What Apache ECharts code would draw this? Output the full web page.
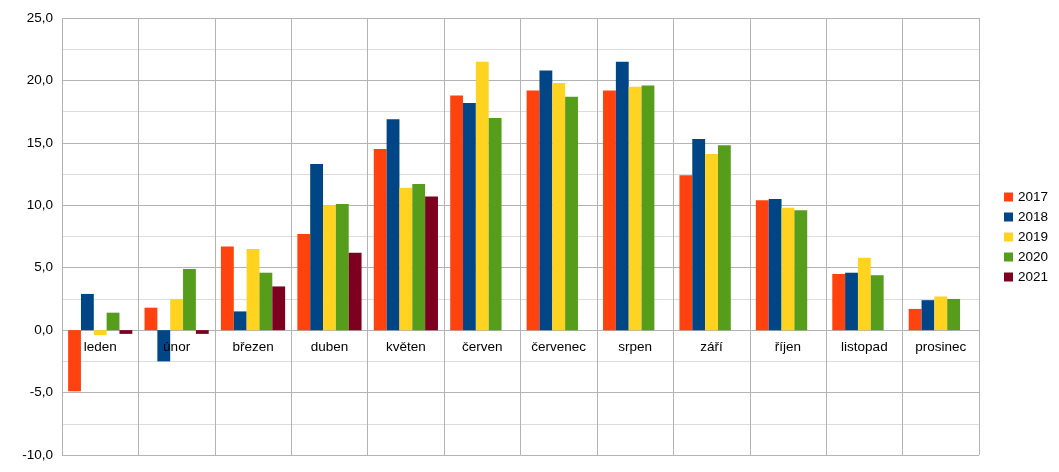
<!DOCTYPE html>
<html>
<head>
<meta charset="utf-8">
<script src="https://cdn.jsdelivr.net/npm/echarts@6/dist/echarts.min.js"></script>
<style>
html,body{margin:0;padding:0;background:#fff;}
#chart{width:1059px;height:472px;}
</style>
</head>
<body>
<div id="chart"></div>
<script>
const categories = ['leden','únor','březen','duben','květen','červen','červenec','srpen','září','říjen','listopad','prosinec'];
const seriesNames = ['2017','2018','2019','2020','2021'];
const v2017 = [-4.9, 1.8, 6.7, 7.7, 14.5, 18.8, 19.2, 19.2, 12.4, 10.4, 4.5, 1.7];
const v2018 = [2.9, -2.5, 1.5, 13.3, 16.9, 18.2, 20.8, 21.5, 15.3, 10.5, 4.6, 2.4];
const v2019 = [-0.4, 2.5, 6.5, 10.0, 11.4, 21.5, 19.8, 19.5, 14.1, 9.8, 5.8, 2.7];
const v2020 = [1.4, 4.9, 4.6, 10.1, 11.7, 17.0, 18.7, 19.6, 14.8, 9.6, 4.4, 2.5];
const v2021 = [-0.3, -0.3, 3.5, 6.2, 10.7, null, null, null, null, null, null, null];
const colors = ['#ff420e', '#004586', '#ffd320', '#579d1c', '#7e0021'];

const allValues = [v2017, v2018, v2019, v2020, v2021];
const FONT = '"Liberation Sans", Arial, sans-serif';

const GRID_TOP = 18, GRID_BOTTOM = 17, H = 472;
const Y_MIN = -10, Y_MAX = 25;
const plotH = H - GRID_TOP - GRID_BOTTOM;
const zeroOffset = -plotH * (0 - Y_MIN) / (Y_MAX - Y_MIN);

const chart = echarts.init(document.getElementById('chart'), null, {renderer: 'canvas'});
chart.setOption({
  animation: false,
  color: colors,
  grid: {left: 62, right: 80, top: GRID_TOP, bottom: GRID_BOTTOM, containLabel: false, outerBoundsMode: 'none'},
  legend: {
    orient: 'vertical',
    left: 1004,
    top: 190,
    padding: 0,
    itemWidth: 9,
    itemHeight: 9,
    itemGap: 6,
    icon: 'rect',
    textStyle: {fontFamily: FONT, fontSize: 13.5, color: '#000'},
    data: seriesNames
  },
  xAxis: [{
    type: 'category',
    data: categories,
    position: 'bottom',
    offset: zeroOffset,
    z: 10,
    axisLine: {show: false, onZero: false},
    axisTick: {show: false},
    axisLabel: {fontFamily: FONT, fontSize: 13.5, color: '#000', margin: 10, interval: 0},
    splitLine: {show: false}
  }, {
    type: 'category',
    data: categories,
    position: 'bottom',
    axisLine: {show: false, onZero: false},
    axisTick: {show: false},
    axisLabel: {show: false},
    splitLine: {show: true, interval: 0, lineStyle: {color: '#b3b3b3', width: 1}}
  }],
  yAxis: {
    type: 'value',
    min: Y_MIN,
    max: Y_MAX,
    interval: 5,
    axisLine: {show: false},
    axisTick: {show: false},
    axisLabel: {
      fontFamily: FONT, fontSize: 13.5, color: '#000', margin: 9,
      formatter: v => v.toFixed(1).replace('.', ',')
    },
    splitLine: {show: true, lineStyle: {color: '#b3b3b3', width: 1}},
    minorTick: {show: false, splitNumber: 2},
    minorSplitLine: {show: true, lineStyle: {color: '#dddddd', width: 1}}
  },
  series: seriesNames.map((name, i) => ({
    name: name,
    type: 'bar',
    xAxisIndex: 0,
    data: allValues[i],
    barGap: '0%',
    barCategoryGap: '16%',
    itemStyle: {color: colors[i]}
  }))
});
</script>
</body>
</html>
